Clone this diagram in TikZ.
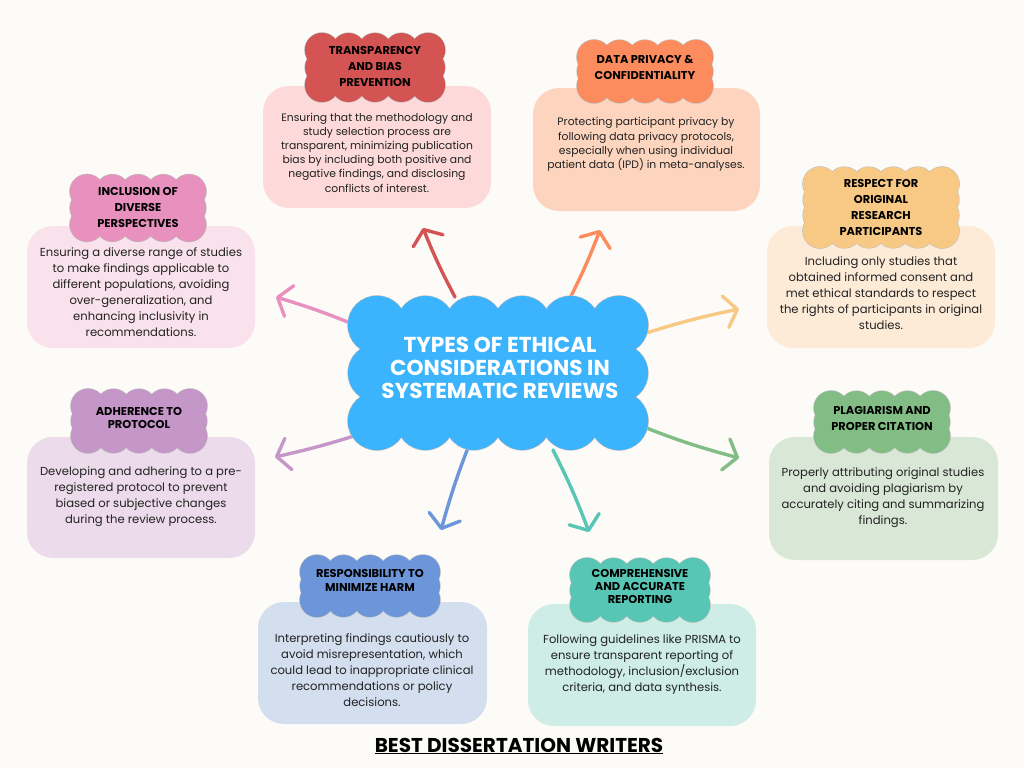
\documentclass[tikz,border=0pt]{standalone}
\usepackage{fontspec}
\setmainfont{Poppins}
\usetikzlibrary{arrows.meta}
\definecolor{bg}{HTML}{FDFBF7}
\definecolor{ctr}{HTML}{3BB4FD}
\definecolor{hA}{HTML}{D45353}\definecolor{lA}{HTML}{FDD9D9}
\definecolor{hB}{HTML}{FC8C5E}\definecolor{lB}{HTML}{FDD5BF}
\definecolor{hC}{HTML}{E891BF}\definecolor{lC}{HTML}{F9E2EC}
\definecolor{hD}{HTML}{F8C985}\definecolor{lD}{HTML}{FDEBD7}
\definecolor{hE}{HTML}{C597C9}\definecolor{lE}{HTML}{ECDCEB}
\definecolor{hF}{HTML}{82BD86}\definecolor{lF}{HTML}{D9E8D6}
\definecolor{hG}{HTML}{6C96D9}\definecolor{lG}{HTML}{D3DFEE}
\definecolor{hH}{HTML}{57C6B4}\definecolor{lH}{HTML}{CDEDE6}
\definecolor{txt}{HTML}{222222}
% cx cy outer-hw outer-hh r nx ny colour
\newcommand\puffcloud[8]{%
  \pgfmathsetmacro\pcw{#3-#5}\pgfmathsetmacro\pch{#4-#5}%
  \foreach \i in {0,...,#6}{\pgfmathsetmacro\px{#1-\pcw+2*\pcw*\i/#6}%
    \draw[puffline] (\px,#2-\pch) circle (#5pt);
    \draw[puffline] (\px,#2+\pch) circle (#5pt);}
  \foreach \j in {0,...,#7}{\pgfmathsetmacro\py{#2-\pch+2*\pch*\j/#7}%
    \draw[puffline] (#1-\pcw,\py) circle (#5pt);
    \draw[puffline] (#1+\pcw,\py) circle (#5pt);}
  \foreach \i in {0,...,#6}{\pgfmathsetmacro\px{#1-\pcw+2*\pcw*\i/#6}%
    \fill[#8] (\px,#2-\pch) circle (#5pt);
    \fill[#8] (\px,#2+\pch) circle (#5pt);}
  \foreach \j in {0,...,#7}{\pgfmathsetmacro\py{#2-\pch+2*\pch*\j/#7}%
    \fill[#8] (#1-\pcw,\py) circle (#5pt);
    \fill[#8] (#1+\pcw,\py) circle (#5pt);}
  \fill[#8] (#1-\pcw,#2-\pch) rectangle (#1+\pcw,#2+\pch);
}
\begin{document}
\begin{tikzpicture}[x=1pt,y=-1pt,
  puffline/.style={draw=black!25,line width=1.2pt},
  card/.style={rounded corners=26pt,minimum width=228pt,minimum height=122pt,inner sep=0pt,draw=none},
  body/.style={align=center,text=txt,font=\fontsize{11.6}{16}\selectfont},
  bodys/.style={align=center,text=txt,font=\fontsize{10.8}{14.2}\selectfont},
  head/.style={align=center,text=black,font=\bfseries\fontsize{11.4}{16}\selectfont},
  arr/.style={line width=3.4pt,line cap=round,-{Straight Barb[length=12pt,width=32pt,round]}}]
\useasboundingbox (0,0) rectangle (1024,768);
\fill[bg] (0,0) rectangle (1024,768);

% cards
\node[card,fill=lA] (cardA) at (377,147) {};
\node[card,fill=lB,minimum width=227pt,minimum height=123pt] (cardB) at (646.5,149.5) {};
\node[card,fill=lC] (cardC) at (141,287) {};
\node[card,fill=lD] (cardD) at (881,287) {};
\node[card,fill=lE,minimum height=121pt] (cardE) at (141,497.5) {};
\node[card,fill=lF,minimum width=229pt,minimum height=123pt] (cardF) at (883.5,498.5) {};
\node[card,fill=lG,minimum width=229pt] (cardG) at (372.5,663) {};
\node[card,fill=lH] (cardH) at (642,665) {};

% header clouds
\puffcloud{375}{67.5}{70}{34.5}{17}{4}{2}{hA}
\puffcloud{645}{71.5}{68}{31.5}{17}{4}{2}{hB}
\puffcloud{138}{208}{68}{33.5}{17}{4}{2}{hC}
\puffcloud{881}{207.5}{78}{40.5}{17}{5}{3}{hD}
\puffcloud{139}{421}{68}{32}{17}{4}{2}{hE}
\puffcloud{882}{422}{68}{31}{17}{4}{2}{hF}
\puffcloud{370}{586}{70}{31}{17}{4}{2}{hG}
\puffcloud{640}{590}{70}{32}{17}{4}{2}{hH}

% arrows
\coordinate (sA) at (455,297); \coordinate (eA) at (423,228);
\coordinate (sC) at (367,330); \coordinate (eC) at (276,297);
\coordinate (sB) at (568,302); \coordinate (eB) at (600,230);
\coordinate (sD) at (640,335); \coordinate (eD) at (739,309);
\coordinate (sE) at (378,428); \coordinate (eE) at (275,457);
\coordinate (sG) at (473,435); \coordinate (eG) at (441,530);
\coordinate (sH) at (553,450); \coordinate (eH) at (589,532);
\coordinate (sF) at (620,417); \coordinate (eF) at (739,458);
\draw[arr,draw=hA] (sA) to[bend left=3] (eA);
\draw[arr,draw=hC] (sC) to[bend right=3] (eC);
\draw[arr,draw=hB] (sB) to[bend right=3] (eB);
\draw[arr,draw=hD] (sD) to[bend left=3] (eD);
\draw[arr,draw=hE] (sE) to[bend left=3] (eE);
\draw[arr,draw=hG] (sG) to[bend right=3] (eG);
\draw[arr,draw=hH] (sH) to[bend left=3] (eH);
\draw[arr,draw=hF] (sF) to[bend right=4] (eF);

% centre cloud
\puffcloud{498}{373}{150}{77}{29}{5}{2}{ctr}
\node[align=center,text=white,font=\bfseries\fontsize{21.6}{23}\selectfont] (centre) at (500,368)
  {TYPES OF ETHICAL\\CONSIDERATIONS IN\\SYSTEMATIC REVIEWS};

% header texts
\node[head] (tA) at (375,66) {TRANSPARENCY\\AND BIAS\\PREVENTION};
\node[head] (tB) at (645,67) {DATA PRIVACY \&\\CONFIDENTIALITY};
\node[head] (tC) at (138,207) {INCLUSION OF\\DIVERSE\\PERSPECTIVES};
\node[head] (tD) at (881,207) {RESPECT FOR\\ORIGINAL\\RESEARCH\\PARTICIPANTS};
\node[head,font=\bfseries\fontsize{11.4}{13}\selectfont] (tE) at (139,417.5) {ADHERENCE TO\\PROTOCOL};
\node[head] (tF) at (882,418) {PLAGIARISM AND\\PROPER CITATION};
\node[head,font=\bfseries\fontsize{11.4}{14}\selectfont] (tG) at (370,580) {RESPONSIBILITY TO\\MINIMIZE HARM};
\node[head,font=\bfseries\fontsize{11.4}{13}\selectfont] (tH) at (640,586) {COMPREHENSIVE\\AND ACCURATE\\REPORTING};

% body texts
\node[bodys] (bA) at (377,152.5) {Ensuring that the methodology and\\study selection process are\\transparent, minimizing publication\\bias by including both positive and\\negative findings, and disclosing\\conflicts of interest.};
\node[bodys] (bB) at (646,144.5) {Protecting participant privacy by\\following data privacy protocols,\\especially when using individual\\patient data (IPD) in meta-analyses.};
\node[body] (bC) at (141,292.5) {Ensuring a diverse range of studies\\to make findings applicable to\\different populations, avoiding\\over-generalization, and\\enhancing inclusivity in\\recommendations.};
\node[body] (bD) at (881,293.5) {Including only studies that\\obtained informed consent and\\met ethical standards to respect\\the rights of participants in original\\studies.};
\node[body] (bE) at (141,497) {Developing and adhering to a pre-\\registered protocol to prevent\\biased or subjective changes\\during the review process.};
\node[body] (bF) at (883,498) {Properly attributing original studies\\and avoiding plagiarism by\\accurately citing and summarizing\\findings.};
\node[body] (bG) at (372,670) {Interpreting findings cautiously to\\avoid misrepresentation, which\\could lead to inappropriate clinical\\recommendations or policy\\decisions.};
\node[body] (bH) at (642,665) {Following guidelines like PRISMA to\\ensure transparent reporting of\\methodology, inclusion/exclusion\\criteria, and data synthesis.};

% footer
\node[font=\bfseries\fontsize{20}{24}\selectfont] (footer) at (519,746) {\underline{BEST DISSERTATION WRITERS}};
\end{tikzpicture}
\end{document}
